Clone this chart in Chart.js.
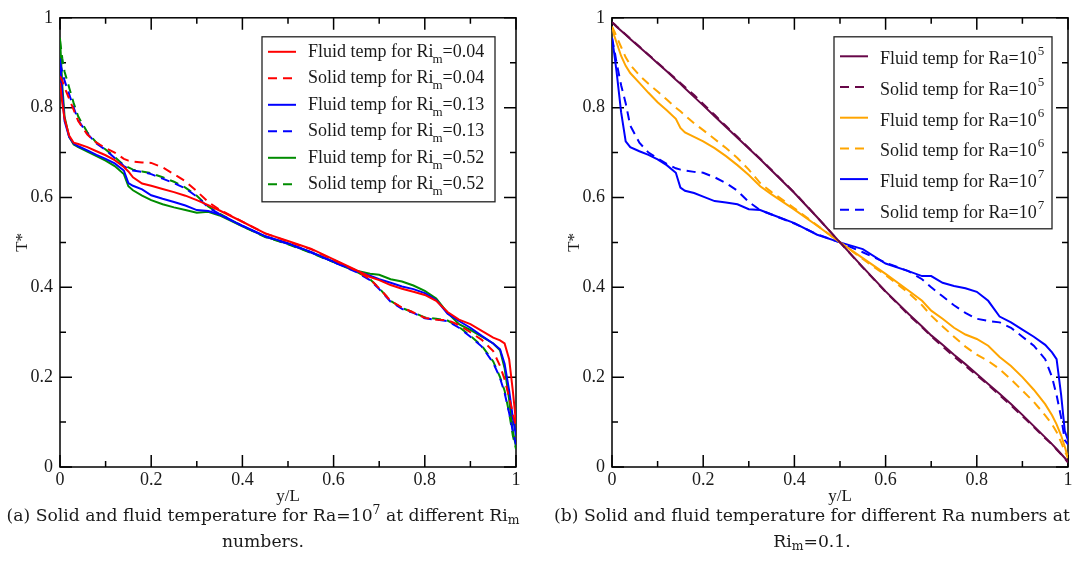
<!DOCTYPE html>
<html>
<head>
<meta charset="utf-8">
<script src="https://cdn.jsdelivr.net/npm/chart.js@4/dist/chart.umd.min.js"></script>
<style>
  body { margin: 0; background: #fff; width: 1075px; height: 579px; position: relative; overflow: hidden; }
  .panel { position: absolute; top: 0; }
  #wrapA { left: 0; width: 537px; height: 510px; }
  #wrapB { left: 552px; width: 523px; height: 510px; }
  .caption { position: absolute; top: 502px; width: 526px; text-align: center; font-family: 'DejaVu Serif', serif; font-size: 17.2px; line-height: 26px; color: #1a1a1a; }
  .caption sup { font-size: 0.72em; vertical-align: 0.55em; line-height: 0; }
  .caption sub { font-size: 0.72em; vertical-align: -0.25em; line-height: 0; }
  #capA { left: 0; }
  #capB { left: 549px; }
</style>
</head>
<body>
<div class="panel" id="wrapA"><canvas id="chartA" width="537" height="510"></canvas></div>
<div class="panel" id="wrapB"><canvas id="chartB" width="523" height="510"></canvas></div>
<div class="caption" id="capA">(a) Solid and fluid temperature for Ra=10<sup>7</sup> at different Ri<sub>m</sub><br>numbers.</div>
<div class="caption" id="capB">(b) Solid and fluid temperature for different Ra numbers at<br>Ri<sub>m</sub>=0.1.</div>
<script>
// y/L positions shared by every curve
const yL = [0, 0.005, 0.01, 0.02, 0.03, 0.04, 0.06, 0.08, 0.1, 0.12, 0.14, 0.15, 0.16, 0.18, 0.2,
  0.225, 0.25, 0.275, 0.3, 0.325, 0.35, 0.4, 0.45, 0.5, 0.55, 0.6, 0.65, 0.68, 0.7, 0.725, 0.75,
  0.775, 0.8, 0.825, 0.85, 0.875, 0.9, 0.925, 0.95, 0.965, 0.975, 0.985, 0.993, 1];

const majorTicks = [0, 0.2, 0.4, 0.6, 0.8, 1];
const minorTicks = [0.1, 0.3, 0.5, 0.7, 0.9];

// (a) Ra=10^7, different Ri_m
const fluidRi004 = [0.855, 0.81, 0.775, 0.738, 0.722, 0.719, 0.712, 0.703, 0.694, 0.683, 0.668, 0.658, 0.645, 0.631, 0.626,
  0.619, 0.612, 0.604, 0.594, 0.583, 0.571, 0.546, 0.52, 0.503, 0.486, 0.462, 0.438, 0.423, 0.416, 0.405, 0.397,
  0.39, 0.383, 0.37, 0.345, 0.328, 0.318, 0.303, 0.288, 0.282, 0.275, 0.24, 0.17, 0.1];
const solidRi004 = [0.87, 0.86, 0.845, 0.82, 0.795, 0.77, 0.74, 0.722, 0.71, 0.7, 0.686, 0.682, 0.68, 0.678, 0.677,
  0.667, 0.652, 0.636, 0.614, 0.59, 0.573, 0.546, 0.52, 0.502, 0.485, 0.461, 0.437, 0.418, 0.398, 0.37, 0.355,
  0.344, 0.332, 0.328, 0.327, 0.316, 0.3, 0.283, 0.258, 0.225, 0.195, 0.155, 0.12, 0.09];
const fluidRi013 = [0.91, 0.83, 0.77, 0.735, 0.72, 0.714, 0.705, 0.695, 0.686, 0.676, 0.66, 0.632, 0.626, 0.618, 0.605,
  0.597, 0.59, 0.582, 0.572, 0.57, 0.562, 0.537, 0.514, 0.498, 0.479, 0.457, 0.436, 0.426, 0.418, 0.41, 0.402,
  0.396, 0.387, 0.372, 0.341, 0.325, 0.31, 0.292, 0.275, 0.262, 0.23, 0.17, 0.11, 0.07];
const solidRi013 = [0.9, 0.88, 0.86, 0.83, 0.8, 0.772, 0.742, 0.72, 0.706, 0.688, 0.67, 0.664, 0.66, 0.657, 0.652,
  0.642, 0.632, 0.62, 0.602, 0.578, 0.563, 0.537, 0.513, 0.497, 0.478, 0.456, 0.434, 0.416, 0.396, 0.368, 0.352,
  0.343, 0.331, 0.328, 0.325, 0.31, 0.29, 0.268, 0.232, 0.198, 0.165, 0.12, 0.08, 0.05];
const fluidRi052 = [0.955, 0.85, 0.78, 0.735, 0.718, 0.712, 0.702, 0.692, 0.682, 0.67, 0.652, 0.625, 0.616, 0.604, 0.594,
  0.585, 0.578, 0.572, 0.566, 0.568, 0.56, 0.536, 0.513, 0.497, 0.478, 0.457, 0.437, 0.43, 0.428, 0.418, 0.413,
  0.404, 0.392, 0.375, 0.343, 0.318, 0.305, 0.29, 0.275, 0.26, 0.22, 0.15, 0.08, 0.045];
const solidRi052 = [0.95, 0.91, 0.88, 0.845, 0.81, 0.78, 0.745, 0.722, 0.707, 0.69, 0.672, 0.667, 0.662, 0.658, 0.654,
  0.645, 0.635, 0.622, 0.604, 0.58, 0.564, 0.536, 0.512, 0.496, 0.477, 0.456, 0.435, 0.418, 0.398, 0.37, 0.354,
  0.344, 0.333, 0.33, 0.326, 0.312, 0.292, 0.27, 0.235, 0.2, 0.17, 0.12, 0.07, 0.04];

// (b) Ri_m=0.1, different Ra
const fluidRa5 = [0.99, 0.985, 0.98, 0.971, 0.962, 0.953, 0.935, 0.917, 0.899, 0.881, 0.862, 0.853, 0.843, 0.824, 0.805,
  0.781, 0.757, 0.733, 0.709, 0.685, 0.66, 0.61, 0.556, 0.5, 0.445, 0.391, 0.341, 0.313, 0.293, 0.272, 0.25,
  0.229, 0.207, 0.185, 0.163, 0.14, 0.116, 0.091, 0.066, 0.051, 0.04, 0.029, 0.02, 0.012];
const solidRa5 = [0.99, 0.986, 0.981, 0.972, 0.963, 0.954, 0.936, 0.918, 0.9, 0.882, 0.864, 0.855, 0.846, 0.828, 0.808,
  0.784, 0.759, 0.735, 0.71, 0.686, 0.661, 0.611, 0.556, 0.5, 0.444, 0.39, 0.339, 0.311, 0.291, 0.268, 0.246,
  0.225, 0.204, 0.183, 0.16, 0.137, 0.113, 0.089, 0.064, 0.05, 0.039, 0.028, 0.019, 0.01];
const fluidRa6 = [0.98, 0.96, 0.945, 0.915, 0.893, 0.877, 0.855, 0.833, 0.812, 0.794, 0.775, 0.755, 0.745, 0.735, 0.725,
  0.71, 0.692, 0.672, 0.65, 0.625, 0.607, 0.573, 0.537, 0.5, 0.465, 0.43, 0.393, 0.37, 0.348, 0.33, 0.31,
  0.295, 0.285, 0.27, 0.245, 0.225, 0.2, 0.172, 0.14, 0.115, 0.095, 0.07, 0.045, 0.02];
const solidRa6 = [0.98, 0.97, 0.958, 0.935, 0.912, 0.895, 0.872, 0.853, 0.836, 0.818, 0.8, 0.792, 0.783, 0.765, 0.75,
  0.73, 0.71, 0.688, 0.662, 0.632, 0.612, 0.576, 0.538, 0.5, 0.463, 0.427, 0.388, 0.36, 0.337, 0.313, 0.29,
  0.268, 0.25, 0.236, 0.218, 0.195, 0.17, 0.145, 0.115, 0.095, 0.078, 0.055, 0.035, 0.02];
const fluidRa7 = [0.955, 0.92, 0.88, 0.79, 0.725, 0.712, 0.703, 0.695, 0.685, 0.672, 0.655, 0.622, 0.615, 0.61, 0.602,
  0.592, 0.589, 0.585, 0.574, 0.572, 0.562, 0.543, 0.517, 0.5, 0.485, 0.453, 0.436, 0.425, 0.425, 0.41, 0.403,
  0.398, 0.39, 0.37, 0.335, 0.322, 0.306, 0.29, 0.272, 0.255, 0.24, 0.16, 0.08, 0.06];
const solidRa7 = [0.955, 0.93, 0.9, 0.85, 0.81, 0.76, 0.722, 0.7, 0.687, 0.675, 0.665, 0.662, 0.66, 0.657, 0.655,
  0.645, 0.632, 0.615, 0.59, 0.572, 0.562, 0.542, 0.518, 0.5, 0.478, 0.455, 0.436, 0.418, 0.4, 0.38, 0.36,
  0.343, 0.33, 0.325, 0.322, 0.31, 0.29, 0.27, 0.24, 0.2, 0.16, 0.11, 0.06, 0.05];

const RED = '#ff0000', BLUE = '#0000ff', GREEN = '#008c00', PURPLE = '#670748', ORANGE = '#ffa500';
const DASH = [9, 6];
const TXT = '#1a1a1a';
const SERIF = "'Liberation Serif', 'Times New Roman', serif";

const seriesA = [
  { vals: fluidRi004, color: RED, dash: [], label: [['Fluid temp for Ri', ''], ['m', 'sub'], ['=0.04', '']] },
  { vals: solidRi004, color: RED, dash: DASH, label: [['Solid temp for Ri', ''], ['m', 'sub'], ['=0.04', '']] },
  { vals: fluidRi013, color: BLUE, dash: [], label: [['Fluid temp for Ri', ''], ['m', 'sub'], ['=0.13', '']] },
  { vals: solidRi013, color: BLUE, dash: DASH, label: [['Solid temp for Ri', ''], ['m', 'sub'], ['=0.13', '']] },
  { vals: fluidRi052, color: GREEN, dash: [], label: [['Fluid temp for Ri', ''], ['m', 'sub'], ['=0.52', '']] },
  { vals: solidRi052, color: GREEN, dash: DASH, label: [['Solid temp for Ri', ''], ['m', 'sub'], ['=0.52', '']] }
];
const seriesB = [
  { vals: fluidRa5, color: PURPLE, dash: [], label: [['Fluid temp for Ra=10', ''], ['5', 'sup']] },
  { vals: solidRa5, color: PURPLE, dash: DASH, label: [['Solid temp for Ra=10', ''], ['5', 'sup']] },
  { vals: fluidRa6, color: ORANGE, dash: [], label: [['Fluid temp for Ra=10', ''], ['6', 'sup']] },
  { vals: solidRa6, color: ORANGE, dash: DASH, label: [['Solid temp for Ra=10', ''], ['6', 'sup']] },
  { vals: fluidRa7, color: BLUE, dash: [], label: [['Fluid temp for Ra=10', ''], ['7', 'sup']] },
  { vals: solidRa7, color: BLUE, dash: DASH, label: [['Solid temp for Ra=10', ''], ['7', 'sup']] }
];

function fmt(v) { return String(Number(v.toFixed(1))); }

// frame with inward major/minor ticks on all four sides
const frameTicks = {
  id: 'frameTicks',
  beforeDatasetsDraw(chart) {
    const { ctx, chartArea: a, scales: { x, y } } = chart;
    ctx.save();
    ctx.strokeStyle = '#000';
    ctx.lineWidth = 1.5;
    ctx.strokeRect(a.left, a.top, a.right - a.left, a.bottom - a.top);
    ctx.beginPath();
    const tick = (v, len) => {
      const px = x.getPixelForValue(v), py = y.getPixelForValue(v);
      ctx.moveTo(px, a.bottom); ctx.lineTo(px, a.bottom - len);
      ctx.moveTo(px, a.top); ctx.lineTo(px, a.top + len);
      ctx.moveTo(a.left, py); ctx.lineTo(a.left + len, py);
      ctx.moveTo(a.right, py); ctx.lineTo(a.right - len, py);
    };
    majorTicks.forEach(v => tick(v, 12));
    minorTicks.forEach(v => tick(v, 6));
    ctx.stroke();
    ctx.restore();
  }
};

// legend drawn by hand so that sub/superscripts work
const richLegend = {
  id: 'richLegend',
  afterDraw(chart, args, opts) {
    const { ctx, chartArea: a } = chart;
    const bx = a.left + opts.left, by = a.top + opts.top;
    ctx.save();
    ctx.fillStyle = '#fff';
    ctx.fillRect(bx, by, opts.width, opts.height);
    ctx.strokeStyle = '#222';
    ctx.lineWidth = 1.3;
    ctx.strokeRect(bx, by, opts.width, opts.height);
    opts.items.forEach((it, i) => {
      const base = by + opts.first + i * opts.step;
      const ly = base - opts.lineOff;
      ctx.beginPath();
      ctx.strokeStyle = it.color;
      ctx.lineWidth = 2;
      ctx.setLineDash(it.dash);
      ctx.moveTo(bx + 6, ly); ctx.lineTo(bx + 34, ly);
      ctx.stroke();
      ctx.setLineDash([]);
      let tx = bx + 46;
      ctx.fillStyle = TXT;
      ctx.textBaseline = 'alphabetic';
      it.label.forEach(([t, mode]) => {
        if (mode === 'sub') {
          ctx.font = '13px ' + SERIF;
          ctx.fillText(t, tx - 1, base + 6);
          tx += ctx.measureText(t).width - 1;
        } else if (mode === 'sup') {
          ctx.font = '13px ' + SERIF;
          ctx.fillText(t, tx + 1, base - 9);
          tx += ctx.measureText(t).width + 1;
        } else {
          ctx.font = '18px ' + SERIF;
          ctx.fillText(t, tx, base);
          tx += ctx.measureText(t).width;
        }
      });
    });
    ctx.restore();
  }
};

function makeChart(id, series, padRight, legendOpts) {
  return new Chart(document.getElementById(id), {
    type: 'line',
    data: {
      datasets: series.map(s => ({
        data: yL.map((v, i) => ({ x: v, y: s.vals[i] })),
        borderColor: s.color,
        borderDash: s.dash,
        borderWidth: 2,
        pointRadius: 0,
        tension: 0,
        fill: false
      }))
    },
    options: {
      responsive: false,
      animation: false,
      layout: { padding: { top: 12, right: padRight, left: 0, bottom: 0 } },
      plugins: {
        legend: { display: false },
        tooltip: { enabled: false },
        richLegend: Object.assign({ items: series }, legendOpts)
      },
      scales: {
        x: {
          type: 'linear', min: 0, max: 1,
          grid: { display: false, drawTicks: false },
          border: { display: false },
          ticks: { stepSize: 0.2, padding: 2, color: TXT, font: { family: SERIF, size: 18 }, maxRotation: 0, autoSkip: false, callback: fmt },
          title: { display: true, text: 'y/L', color: TXT, font: { family: SERIF, size: 17 }, padding: 3 },
          afterFit: s => { s.height = 43; }
        },
        y: {
          type: 'linear', min: 0, max: 1,
          grid: { display: false, drawTicks: false },
          border: { display: false },
          ticks: { stepSize: 0.2, padding: 7, color: TXT, font: { family: SERIF, size: 18 }, autoSkip: false, callback: fmt },
          title: { display: true, text: 'T*', color: TXT, font: { family: SERIF, size: 17 }, padding: 12 },
          afterFit: s => { s.width = 60; }
        }
      }
    },
    plugins: [frameTicks, richLegend]
  });
}

makeChart('chartA', seriesA, 21, { left: 202, top: 19, width: 233, height: 165, first: 20, step: 26.5, lineOff: 5 });
makeChart('chartB', seriesB, 7, { left: 222, top: 19, width: 218, height: 192, first: 27.5, step: 30.7, lineOff: 8 });
</script>
</body>
</html>
